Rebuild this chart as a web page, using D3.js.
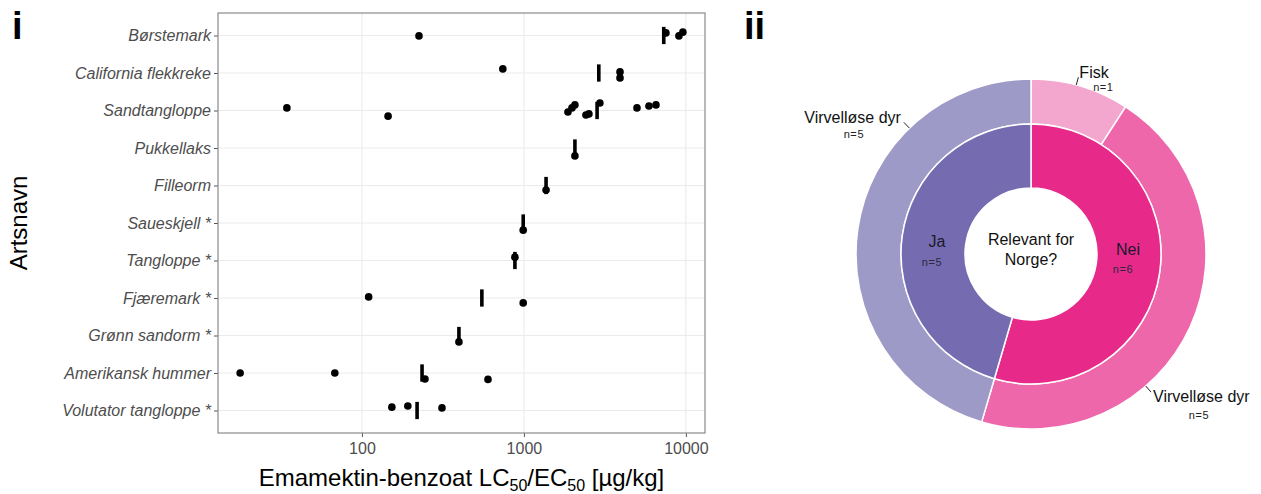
<!DOCTYPE html>
<html>
<head>
<meta charset="utf-8">
<script src="https://cdn.jsdelivr.net/npm/d3@7"></script>
<style>
  body { margin: 0; background: #fff; }
  svg { font-family: "Liberation Sans", Arial, sans-serif; }
</style>
</head>
<body>
<svg width="1261" height="494"></svg>
<script>
// ---- panel i data ----
var species = ["Børstemark", "California flekkreke", "Sandtangloppe", "Pukkellaks", "Filleorm",
  "Saueskjell *", "Tangloppe *", "Fjæremark *", "Grønn sandorm *", "Amerikansk hummer", "Volutator tangloppe *"];

// vertical marker per species
var markerValues = [7300, 2900, 2830, 2065, 1370, 990, 880, 550, 397, 235, 219];

// single LC50/EC50 observations per species
var obsValues = [
  [225, 7530, 9060, 9580],
  [741, 3920, 3920],
  [34.4, 145, 1870, 1980, 2065, 2415, 2520, 2945, 4990, 5915, 6535],
  [2065],
  [1370],
  [990],
  [880],
  [110, 990],
  [397],
  [17.7, 68, 245, 600],
  [153, 192, 312]
];
// vertical jitter (fraction of a row)
var obsJitter = [
  [0.01, -0.07, 0.01, -0.09],
  [-0.11, -0.03, 0.13],
  [-0.07, 0.15, 0.04, -0.07, -0.15, 0.12, 0.09, -0.2, -0.07, -0.12, -0.15],
  [0.21],
  [0.12],
  [0.19],
  [-0.09],
  [-0.03, 0.13],
  [0.17],
  [0, 0, 0.16, 0.17],
  [-0.09, -0.12, -0.07]
];
var xTicks = [100, 1000, 10000];

// ---- panel ii data ----
var groupNames = ["Nei", "Ja"],
    groupCounts = [6, 5];
var subNames = ["Fisk", "Virvelløse dyr", "Virvelløse dyr"],
    subCounts = [1, 5, 5];

var svg = d3.select("svg");

// ================= panel i =================
var frame = {left: 218, right: 705, top: 13, bottom: 433};

var allVals = d3.merge(obsValues).concat(markerValues);
var lext = d3.extent(allVals, function(d) { return Math.log10(d); }),
    pad = (lext[1] - lext[0]) * 0.05;

var x = d3.scaleLog()
    .domain([Math.pow(10, lext[0] - pad), Math.pow(10, lext[1] + pad)])
    .range([frame.left, frame.right]);

var y = d3.scalePoint()
    .domain(species)
    .range([frame.top, frame.bottom])
    .padding(0.6);

var step = y.step();
var g = svg.append("g");

// grid
g.selectAll(".gx")
  .data(xTicks)
  .enter().append("line")
    .attr("x1", function(d) { return x(d); })
    .attr("x2", function(d) { return x(d); })
    .attr("y1", frame.top)
    .attr("y2", frame.bottom)
    .attr("stroke", "#ebebeb")
    .attr("stroke-width", 1.1);

g.selectAll(".gy")
  .data(species)
  .enter().append("line")
    .attr("x1", frame.left)
    .attr("x2", frame.right)
    .attr("y1", function(d) { return y(d); })
    .attr("y2", function(d) { return y(d); })
    .attr("stroke", "#ebebeb")
    .attr("stroke-width", 1.1);

// axes
var xAxis = g.append("g")
    .attr("transform", "translate(0," + frame.bottom + ")")
    .call(d3.axisBottom(x).tickValues(xTicks).tickFormat(d3.format("d")).tickSize(4).tickPadding(6));

var yAxis = g.append("g")
    .attr("transform", "translate(" + frame.left + ",0)")
    .call(d3.axisLeft(y).tickSize(4).tickPadding(3));

[xAxis, yAxis].forEach(function(a) {
  a.select(".domain").remove();
  a.selectAll(".tick line").attr("stroke", "#555");
  a.selectAll(".tick text")
    .attr("fill", "#4d4d4d")
    .style("font-size", "16px");
});
yAxis.selectAll(".tick text").style("font-style", "italic");

// panel border
g.append("rect")
    .attr("x", frame.left)
    .attr("y", frame.top)
    .attr("width", frame.right - frame.left)
    .attr("height", frame.bottom - frame.top)
    .attr("fill", "none")
    .attr("stroke", "#8a8a8a")
    .attr("stroke-width", 1.2);

// markers
g.selectAll(".marker")
  .data(species)
  .enter().append("line")
    .attr("class", "marker")
    .attr("x1", function(d, i) { return x(markerValues[i]); })
    .attr("x2", function(d, i) { return x(markerValues[i]); })
    .attr("y1", function(d) { return y(d) - step * 0.23; })
    .attr("y2", function(d) { return y(d) + step * 0.23; })
    .attr("stroke", "#000")
    .attr("stroke-width", 3.6);

// points
var pts = [];
species.forEach(function(s, i) {
  obsValues[i].forEach(function(v, j) {
    pts.push({species: s, value: v, jitter: obsJitter[i][j]});
  });
});

g.selectAll(".pt")
  .data(pts)
  .enter().append("circle")
    .attr("class", "pt")
    .attr("cx", function(d) { return x(d.value); })
    .attr("cy", function(d) { return y(d.species) + d.jitter * step; })
    .attr("r", 3.8)
    .attr("fill", "#000");

// axis titles
var xt = svg.append("text")
    .attr("x", (frame.left + frame.right) / 2)
    .attr("y", 486)
    .attr("text-anchor", "middle")
    .style("font-size", "24px")
    .attr("fill", "#000");
xt.append("tspan").text("Emamektin-benzoat LC");
xt.append("tspan").attr("dy", 5).style("font-size", "16px").text("50");
xt.append("tspan").attr("dy", -5).text("/EC");
xt.append("tspan").attr("dy", 5).style("font-size", "16px").text("50");
xt.append("tspan").attr("dy", -5).text(" [µg/kg]");

svg.append("text")
    .attr("transform", "translate(27," + ((frame.top + frame.bottom) / 2) + ") rotate(-90)")
    .attr("text-anchor", "middle")
    .style("font-size", "24px")
    .text("Artsnavn");

// panel letters
svg.append("text").attr("x", 12).attr("y", 39)
    .style("font-size", "38px").style("font-weight", "bold").text("i");
svg.append("text").attr("x", 744).attr("y", 39)
    .style("font-size", "38px").style("font-weight", "bold").text("ii");

// ================= panel ii =================
var cx = 1031, cy = 254;
var donut = svg.append("g").attr("transform", "translate(" + cx + "," + cy + ")");

var innerColors = ["#e7298a", "#756bb1"],
    outerColors = ["#f3a7cf", "#ee67aa", "#9e9ac8"];

var pie = d3.pie().sort(null).value(function(d) { return d; });

var innerArc = d3.arc().innerRadius(66).outerRadius(130),
    outerArc = d3.arc().innerRadius(130).outerRadius(175);

var innerData = pie(groupCounts),
    outerData = pie(subCounts);

donut.selectAll(".outer")
  .data(outerData)
  .enter().append("path")
    .attr("d", outerArc)
    .attr("fill", function(d, i) { return outerColors[i]; })
    .attr("stroke", "#fff")
    .attr("stroke-width", 1.5);

donut.selectAll(".inner")
  .data(innerData)
  .enter().append("path")
    .attr("d", innerArc)
    .attr("fill", function(d, i) { return innerColors[i]; })
    .attr("stroke", "#fff")
    .attr("stroke-width", 1.5);

// centre label
donut.append("text").attr("y", -9).attr("text-anchor", "middle")
    .style("font-size", "16px").attr("fill", "#111").text("Relevant for");
donut.append("text").attr("y", 11).attr("text-anchor", "middle")
    .style("font-size", "16px").attr("fill", "#111").text("Norge?");

// inner labels: name and count, nudged from the arc centroid
var innerNudge = [[0, -13, 5], [3, 7, 26]];
innerData.forEach(function(d, i) {
  var c = innerArc.centroid(d), n = innerNudge[i];
  donut.append("text")
      .attr("x", c[0] + n[0]).attr("y", c[1] + n[1])
      .attr("text-anchor", "middle")
      .style("font-size", "16px").attr("fill", "#1a1a2a")
      .text(groupNames[i]);
  donut.append("text")
      .attr("x", c[0] + n[0] - 5).attr("y", c[1] + n[2])
      .attr("text-anchor", "middle")
      .style("font-size", "11px").style("letter-spacing", "0.6px").attr("fill", "#2a2a3a")
      .text("n=" + groupCounts[i]);
});

// outer labels with short leader lines
var leaderAngles = [15, 139, 316];
var outerLabelLayout = [
  {anchor: "start", tx: 1, ty: 1, nx: 25, ny: 14},
  {anchor: "start", tx: 2, ty: 10, nx: 48, ny: 27},
  {anchor: "end", tx: -3, ty: 1, nx: -50, ny: 16}
];
outerData.forEach(function(d, i) {
  var a = leaderAngles[i] * Math.PI / 180;
  var p0 = d3.pointRadial(a, 175),
      p1 = d3.pointRadial(a, 183);
  var L = outerLabelLayout[i];
  donut.append("line")
      .attr("x1", p0[0]).attr("y1", p0[1])
      .attr("x2", p1[0]).attr("y2", p1[1])
      .attr("stroke", "#222").attr("stroke-width", 1);
  donut.append("text")
      .attr("x", p1[0] + L.tx).attr("y", p1[1] + L.ty)
      .attr("text-anchor", L.anchor)
      .style("font-size", "16px").attr("fill", "#111")
      .text(subNames[i]);
  donut.append("text")
      .attr("x", p1[0] + L.nx).attr("y", p1[1] + L.ny)
      .attr("text-anchor", "middle")
      .style("font-size", "11px").style("letter-spacing", "0.6px").attr("fill", "#222")
      .text("n=" + subCounts[i]);
});
</script>
</body>
</html>
